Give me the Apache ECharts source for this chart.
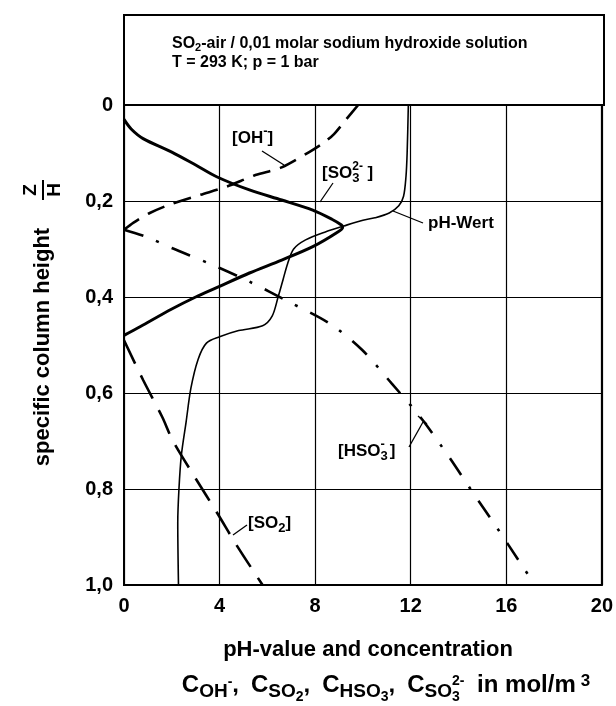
<!DOCTYPE html>
<html>
<head>
<meta charset="utf-8">
<script src="https://cdn.jsdelivr.net/npm/echarts@6/dist/echarts.min.js"></script>
<style>
  html, body { margin: 0; padding: 0; background: #fff; }
  #chart { width: 616px; height: 706px; }
</style>
</head>
<body>
<div id="chart"></div>
<script>
// ticks
const xTicks = [0, 4, 8, 12, 16, 20]
const yTickLabels = ['0', '0,2', '0,4', '0,6', '0,8', '1,0']

// curves, [concentration / pH, specific column height Z/H]
const phWert = [[11.9, 0], [11.85, 0.1], [11.8, 0.15], [11.7, 0.19], [11.5, 0.21], [11.1, 0.225],
  [10.5, 0.235], [10.0, 0.24], [9.2, 0.252], [8.45, 0.264], [7.6, 0.281], [7.1, 0.3], [6.85, 0.33],
  [6.65, 0.365], [6.45, 0.4], [6.2, 0.44], [5.8, 0.46], [4.8, 0.47], [4.0, 0.483], [3.45, 0.496],
  [3.1, 0.53], [2.8, 0.59], [2.6, 0.66], [2.4, 0.73], [2.3, 0.8], [2.25, 0.87], [2.28, 1.0]]
const so3 = [[0, 0.03], [0.3, 0.05], [0.8, 0.07], [2.0, 0.098], [3.0, 0.125], [3.9, 0.15], [5.25, 0.177],
  [6.6, 0.198], [7.9, 0.219], [8.7, 0.238], [9.1, 0.25], [9.15, 0.255], [8.9, 0.266], [7.9, 0.295],
  [6.6, 0.323], [5.25, 0.35], [3.9, 0.38], [3.0, 0.4], [2.0, 0.425], [0.67, 0.462], [0, 0.48]]
const oh = [[9.8, 0], [9.3, 0.03], [8.8, 0.06], [8.4, 0.077], [7.75, 0.098], [6.6, 0.13], [5.5, 0.146],
  [4.3, 0.17], [3.2, 0.187], [2.05, 0.205], [1.08, 0.225], [0.4, 0.245], [0, 0.26]]
const hso3 = [[0, 0.26], [0.95, 0.275], [2.0, 0.298], [3.7, 0.333], [5.25, 0.368], [6.9, 0.41],
  [8.6, 0.455], [9.96, 0.51], [11.2, 0.58], [12.4, 0.65], [13.6, 0.733], [14.5, 0.8], [15.6, 0.88],
  [16.6, 0.955], [17.2, 1.0]]
const so2 = [[0, 0.49], [0.8, 0.573], [1.6, 0.65], [2.05, 0.7], [2.96, 0.775], [3.9, 0.85],
  [4.75, 0.92], [5.8, 1.0]]

const FONT = '"Liberation Sans", Arial, Helvetica, sans-serif'

const chart = echarts.init(document.getElementById('chart'))

function curve(data, width, type) {
  return {
    type: 'line',
    data: data,
    smooth: 0.3,
    symbol: 'none',
    lineStyle: { color: '#000', width: width, type: type },
    z: 5
  }
}

// text with sub/superscripts, built from measured pieces
// piece: [text, size, baseline offset, stacked over previous piece, extra gap]
const ctx = document.createElement('canvas').getContext('2d')
function compose(x0, baseY, pieces, weight, align) {
  let x = 0, start = 0
  const placed = pieces.map(p => {
    const [t, s, dy, stack, dx] = p
    const font = weight + ' ' + s + 'px ' + FONT
    ctx.font = font
    const w = ctx.measureText(t).width
    let px
    if (stack) { px = start } else { px = x + (dx || 0); start = px }
    x = Math.max(x, px + w)
    return { t, s, dy, px, font }
  })
  const off = align === 'center' ? x0 - x / 2 : x0
  return placed.map(p => ({
    type: 'text', z: 10, x: off + p.px, y: baseY + p.dy - 0.33 * p.s,
    style: { text: p.t, font: p.font, fill: '#000', align: 'left', verticalAlign: 'middle' }
  }))
}

function leader(x1, y1, x2, y2) {
  return { type: 'line', z: 10, shape: { x1, y1, x2, y2 }, style: { stroke: '#000', lineWidth: 1.3 } }
}

const graphics = [
  // box with conditions
  { type: 'rect', shape: { x: 124, y: 15, width: 480, height: 90 },
    style: { fill: '#fff', stroke: '#000', lineWidth: 2 } },
  ...compose(172, 49, [['SO', 16, 0], ['2', 11, 3], ['-air / 0,01 molar sodium hydroxide solution', 16, 0]], 'bold'),
  ...compose(172, 68, [['T = 293 K; p = 1 bar', 16, 0]], 'bold'),

  // curve labels
  ...compose(232, 144, [['[OH', 17, 0], ['-', 13, -8], [']', 17, 0]], 'bold'),
  leader(262, 151, 284, 165),
  ...compose(322, 179, [['[SO', 17, 0], ['3', 13, 4], ['2-', 12, -8, true], [' ]', 17, 0]], 'bold'),
  leader(333, 183, 320, 202),
  ...compose(428, 229, [['pH-Wert', 17, 0]], 'bold'),
  leader(423, 223, 393, 211),
  ...compose(338, 457, [['[HSO', 17, 0], ['3', 13, 4], ['-', 13, -8, true], [']', 17, 0, false, 2]], 'bold'),
  leader(409, 447, 423, 422),
  leader(418, 416, 427, 424),
  ...compose(248, 529, [['[SO', 17, 0], ['2', 13, 4], [']', 17, 0]], 'bold'),
  leader(247, 525, 233, 535),

  // x axis title
  ...compose(368, 657, [['pH-value and concentration', 22, 0]], 'bold', 'center'),
  ...compose(386, 693, [
    ['C', 24, 0], ['OH', 19, 5], ['-', 14, -6], [',', 24, 0], ['C', 24, 0, false, 12], ['SO', 19, 5], ['2', 14, 9],
    [',', 24, 0], ['C', 24, 0, false, 12], ['HSO', 19, 5], ['3', 14, 9], [',', 24, 0], ['C', 24, 0, false, 12],
    ['SO', 19, 5], ['3', 14, 9], ['2-', 14, -7, true], [' in mol/m', 24, 0, false, 6], ['3', 17, -6, false, 5]
  ], 'bold', 'center'),

  // y axis title, rotated
  { type: 'group', x: 43, y: 347, rotation: Math.PI / 2,
    children: [
      { type: 'text', x: 0, y: 0, style: { text: 'specific column height', font: 'bold 22px ' + FONT, fill: '#000', align: 'center', verticalAlign: 'middle' } },
      { type: 'text', x: 157, y: -12, style: { text: 'Z', font: 'bold 19px ' + FONT, fill: '#000', align: 'center', verticalAlign: 'middle' } },
      { type: 'line', shape: { x1: 147, y1: 0, x2: 167, y2: 0 }, style: { stroke: '#000', lineWidth: 2 } },
      { type: 'text', x: 157, y: 12, style: { text: 'H', font: 'bold 19px ' + FONT, fill: '#000', align: 'center', verticalAlign: 'middle' } }
    ] }
]

chart.setOption({
  animation: false,
  backgroundColor: '#fff',
  grid: {
    left: 124, top: 105, right: 12, bottom: 121,
    show: true, borderColor: '#000', borderWidth: 2
  },
  xAxis: {
    type: 'value', min: 0, max: 20, interval: 4,
    axisLine: { lineStyle: { color: '#000', width: 2 } },
    axisTick: { show: false },
    axisLabel: {
      color: '#000', fontSize: 20, fontWeight: 'bold', fontFamily: FONT, margin: 11,
      formatter: v => String(xTicks[Math.round(v / 4)])
    },
    splitLine: { lineStyle: { color: '#000', width: 1.2 } }
  },
  yAxis: {
    type: 'value', min: 0, max: 1, interval: 0.2, inverse: true,
    axisLine: { lineStyle: { color: '#000', width: 2 } },
    axisTick: { show: false },
    axisLabel: {
      color: '#000', fontSize: 20, fontWeight: 'bold', fontFamily: FONT, margin: 11,
      formatter: v => yTickLabels[Math.round(v / 0.2)]
    },
    splitLine: { lineStyle: { color: '#000', width: 1.2 } }
  },
  series: [
    curve(phWert, 1.6, 'solid'),
    curve(so3, 3, 'solid'),
    curve(oh, 2.6, [18, 10]),
    curve(hso3, 2.6, [20, 14, 3, 14]),
    curve(so2, 2.6, [26, 13])
  ],
  graphic: graphics
})
</script>
</body>
</html>
